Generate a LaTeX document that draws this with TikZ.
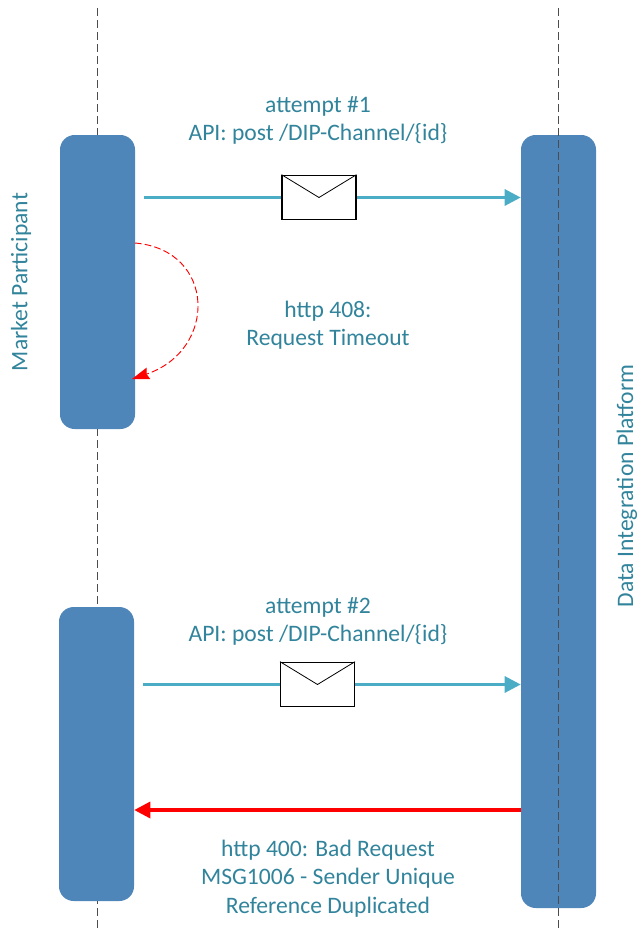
\documentclass[tikz,border=0pt]{standalone}
\usepackage{fontspec}
\setmainfont{Carlito}
\usetikzlibrary{arrows.meta}
\definecolor{boxblue}{HTML}{4F86B9}
\definecolor{msgteal}{HTML}{4BACC6}
\definecolor{txtteal}{HTML}{31849B}
\tikzset{
  lifeline/.style={draw=black!70, dashed, dash pattern=on 6pt off 3pt, line width=0.85pt},
  actbox/.style={draw=none, fill=boxblue, rounded corners=11pt, minimum width=56.25pt, inner sep=0pt},
  msgline/.style={draw=msgteal, line width=2.3pt, -{Triangle[length=12pt,width=12pt]}},
  envelope/.style={draw=black, fill=white, line width=0.8pt, minimum width=55.5pt, minimum height=33.5pt, inner sep=0pt},
  label/.style={text=txtteal, font=\fontsize{17.7}{21.2}\selectfont, align=center},
}
\begin{document}
\begin{tikzpicture}[x=0.75pt, y=-0.75pt]
    \useasboundingbox (0, 0) rectangle (638, 929);
    % lifeline of the participant, behind the boxes
    \coordinate (mptop) at (97.2, 8);
    \coordinate (mpend) at (97.2, 929);
    \draw[lifeline] (mptop) -- (mpend);
    \node[actbox, minimum height=220.5pt] (mpa) at (97.5, 282) {};
    \node[actbox, minimum height=220.5pt] (mpb) at (96.5, 754) {};
    \node[actbox, minimum height=579.75pt] (dip) at (558.5, 521.5) {};
    % this one runs over the box
    \coordinate (diptop) at (558.5, 8);
    \coordinate (dipend) at (558.5, 929);
    \draw[lifeline] (diptop) -- (dipend);

    % attempt 1
    \coordinate (starta) at (144, 197.5);
    \draw[msgline] (starta) -- (starta -| dip.west);
    \node[envelope] (enva) at (319, 197.5) {};
    \draw[line width=0.6pt] (enva.north west) -- (enva.center) -- (enva.north east);
    \node[label] (texta) at (318, 120.5) {attempt \#1\\API: post /DIP-Channel/\{id\}};

    % timeout
    \coordinate (leavea) at (135, 243);
    \coordinate (backa) at (132, 379);
    \draw[draw=red, line width=0.7pt, dashed, dash pattern=on 5pt off 2.4pt, -{Stealth[length=13pt,width=9pt,inset=1.5pt]}]
      (leavea) .. controls (216, 250) and (218, 350) .. (backa);
    \node[label] (textb) at (328, 325) {http 408:\\Request Timeout};

    % attempt 2
    \coordinate (startb) at (143, 684.5);
    \draw[msgline] (startb) -- (startb -| dip.west);
    \node[envelope] (envb) at (317.5, 684.5) {};
    \draw[line width=0.6pt] (envb.north west) -- (envb.center) -- (envb.north east);
    \node[label] (textc) at (318, 621.5) {attempt \#2\\API: post /DIP-Channel/\{id\}};

    % rejected
    \coordinate (reject) at (521, 810);
    \draw[draw=red, line width=2.5pt, -{Triangle[length=12pt,width=12pt]}] (reject) -- (reject -| mpb.east);
    \node[label] (textd) at (328, 878.5) {http 400: Bad Request\\MSG1006 - Sender Unique\\Reference Duplicated};

    % side labels
    \node[label, rotate=90] (mplabel) at (21, 282) {Market Participant};
    \node[label, rotate=90] (diplabel) at (627, 486) {Data Integration Platform};
\end{tikzpicture}
\end{document}
